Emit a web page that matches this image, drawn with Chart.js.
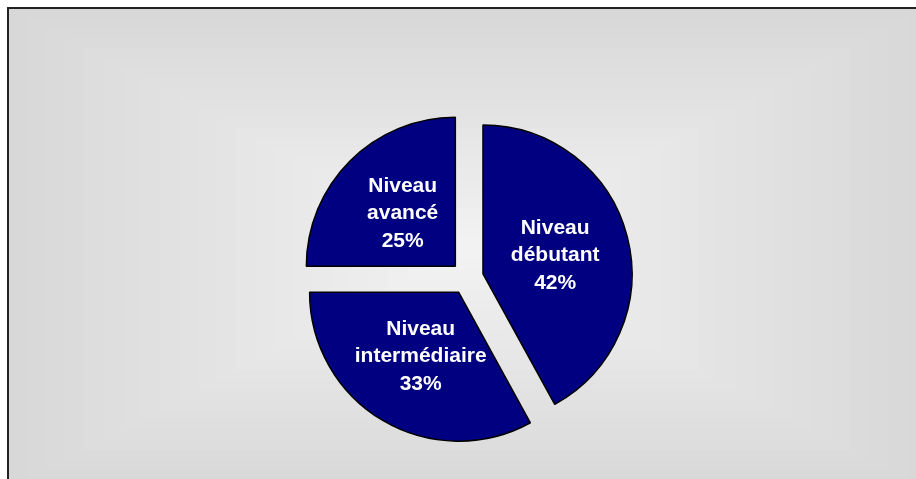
<!DOCTYPE html>
<html>
<head>
<meta charset="utf-8">
<script src="https://cdn.jsdelivr.net/npm/chart.js@4/dist/chart.umd.min.js"></script>
<style>
  html, body { margin: 0; padding: 0; background: #ffffff; }
  #wrap { position: absolute; left: 0; top: 0; width: 916px; height: 479px; }
</style>
</head>
<body>
<div id="wrap"><canvas id="c" width="916" height="479"></canvas></div>
<script>
const categories = ["Niveau débutant", "Niveau intermédiaire", "Niveau avancé"];
const labelLines = [["Niveau", "débutant"], ["Niveau", "intermédiaire"], ["Niveau", "avancé"]];
const values = [42, 33, 25];

const EXPLODE = 16.5; // slice displacement in px along its mid-angle

const bgPlugin = {
  id: 'bg',
  beforeDraw(chart) {
    const ctx = chart.ctx;
    const x0 = 8, y0 = 8, x1 = 926, y1 = 490;
    const steps = 24;
    const dx = 19, dy = 10;
    const c0 = 216, c1 = 243;
    ctx.save();
    for (let i = 0; i <= steps; i++) {
      const t = i / steps;
      const v = Math.round(c0 + (c1 - c0) * t);
      ctx.fillStyle = `rgb(${v},${v},${v})`;
      const l = x0 + i * dx, tp = y0 + i * dy, r = x1 - i * dx, b = y1 - i * dy;
      if (r - l <= 0 || b - tp <= 0) break;
      ctx.fillRect(l, tp, r - l, b - tp);
    }
    ctx.strokeStyle = '#222';
    ctx.lineWidth = 2;
    ctx.beginPath();
    ctx.moveTo(8, 479);
    ctx.lineTo(8, 8);
    ctx.lineTo(916, 8);
    ctx.stroke();
    ctx.restore();
  }
};

// Draw each library arc element displaced uniformly (exploded pie)
const explodePlugin = {
  id: 'explode',
  beforeDatasetDraw(chart, args) {
    const ctx = chart.ctx;
    args.meta.data.forEach((arc) => {
      const p = arc.getProps(['startAngle', 'endAngle'], true);
      const mid = (p.startAngle + p.endAngle) / 2;
      ctx.save();
      ctx.translate(Math.cos(mid) * EXPLODE, Math.sin(mid) * EXPLODE);
      arc.draw(ctx, chart.chartArea);
      ctx.restore();
    });
    return false;
  }
};

const labelPlugin = {
  id: 'sliceLabels',
  afterDatasetsDraw(chart) {
    const ctx = chart.ctx;
    const meta = chart.getDatasetMeta(0);
    const total = values.reduce((a, b) => a + b, 0);
    ctx.save();
    ctx.fillStyle = '#ffffff';
    ctx.font = 'bold 21px "Liberation Sans", Arial, sans-serif';
    ctx.textAlign = 'center';
    ctx.textBaseline = 'middle';
    meta.data.forEach((arc, i) => {
      const p = arc.getProps(['x', 'y', 'startAngle', 'endAngle', 'outerRadius'], true);
      const mid = (p.startAngle + p.endAngle) / 2;
      const d = EXPLODE + p.outerRadius * 0.5;
      const cx = p.x + Math.cos(mid) * d;
      const cy = p.y + Math.sin(mid) * d;
      const lines = labelLines[i].concat([Math.round(values[i] / total * 100) + '%']);
      const lh = 27.5;
      lines.forEach((ln, k) => {
        ctx.fillText(ln, cx, cy + (k - (lines.length - 1) / 2) * lh);
      });
    });
    ctx.restore();
  }
};

new Chart(document.getElementById('c'), {
  type: 'pie',
  data: {
    labels: categories,
    datasets: [{
      data: values,
      backgroundColor: '#000080',
      borderColor: '#000000',
      borderWidth: 1.5,
      offset: 0,
      hoverOffset: 0
    }]
  },
  options: {
    responsive: false,
    animation: false,
    radius: 149,
    layout: { padding: { left: 18, right: 0, top: 77, bottom: 0 } },
    plugins: {
      legend: { display: false },
      tooltip: { enabled: false }
    }
  },
  plugins: [bgPlugin, explodePlugin, labelPlugin]
});
</script>
</body>
</html>
